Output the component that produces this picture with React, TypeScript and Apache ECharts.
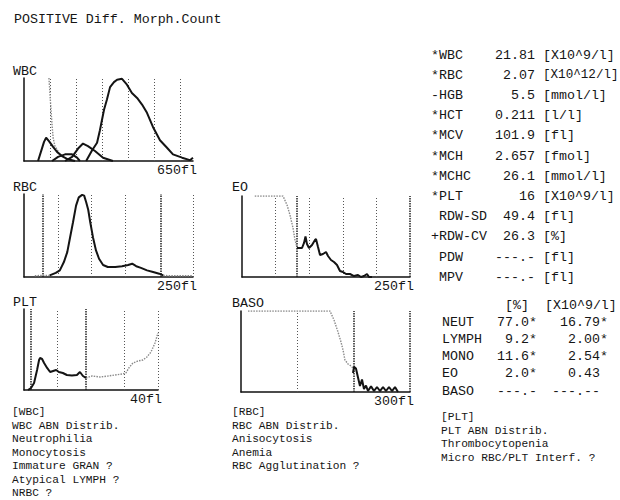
import React, { useEffect, useRef } from 'react';
import * as echarts from 'echarts';

const MONO = '"Liberation Mono", "Courier New", monospace';

const TITLE = 'POSITIVE Diff. Morph.Count';
const PANEL_NAMES = ['WBC', 'RBC', 'PLT', 'EO', 'BASO'];
const AXIS_END_LABELS = ['650fl', '250fl', '40fl', '250fl', '300fl'];
const AXIS_MAX = [650, 250, 40, 250, 300];

// WBC histogram (x: fl, y: relative count 0-100)
const wbcLymX = [54, 65, 77, 85, 96, 112, 127, 146, 169, 196];
const wbcLymY = [0, 11, 23, 28, 24, 17, 11, 6, 2, 0];
const wbcMonoX = [108, 131, 158, 185, 204, 215];
const wbcMonoY = [0, 5, 8, 8, 4, 0];
const wbcEoX = [158, 185, 208, 227, 246, 273, 304, 342];
const wbcEoY = [0, 5, 15, 21, 18, 12, 4, 0];
const wbcNeutX = [239, 262, 281, 292, 308, 319, 331, 346, 358, 377, 396, 415, 435, 454, 473, 496, 523, 550, 573, 608, 638, 650];
const wbcNeutY = [0, 13, 22, 37, 62, 74, 89, 95, 98, 99, 92, 82, 76, 68, 58, 41, 25, 16, 8, 4, 1, 4];
const wbcNoiseX = [96, 100, 104, 108, 112, 119, 131];
const wbcNoiseY = [100, 80, 61, 43, 28, 18, 12];
const wbcGuides = [100, 200, 300, 400, 500, 600];
const wbcDiscr: number[] = [];

// RBC histogram
const rbcLeadX = [16, 27, 38];
const rbcLeadY = [1.5, 2, 2];
const rbcX = [38, 47, 53, 59, 64, 68, 72.5, 77, 81, 86, 89, 92, 95, 98, 102, 106.5, 111, 117, 124, 135, 145, 154, 160, 166, 173, 182, 191, 200, 206];
const rbcY = [2, 5, 8, 18, 30, 47, 66, 86, 96, 99, 98, 90, 81, 66, 48, 32, 22, 14.5, 12, 12, 13, 14.5, 16, 13, 11, 8, 6, 4, 2];
const rbcTailX = [206, 215, 230, 249];
const rbcTailY = [2, 1.5, 1.5, 1.5];
const rbcGuides = [50, 100, 150, 250];
const rbcDiscr = [27, 203];

// PLT histogram
const pltX = [1.2, 2.1, 3, 3.9, 4.5, 4.8, 5.4, 6, 6.9, 7.8, 8.7, 9.6, 10.4, 11.6, 12.8, 14.3, 15.8, 16.7, 17.6, 18.5];
const pltY = [0, 2.5, 8.6, 24.7, 37, 39.5, 38.3, 33.3, 27.2, 22.2, 23.5, 24.7, 22.2, 21, 18.5, 17.9, 18.5, 22.2, 17.3, 14.8];
const pltTailX = [18.5, 20.3, 22.7, 25.1, 27.2, 29.3, 30.4, 31.3, 32.5, 34, 35.5, 36.7, 37.9, 39.1, 40];
const pltTailY = [14.8, 17.3, 16, 17.3, 18.5, 19.8, 21, 27.2, 33.3, 35.8, 37, 40.8, 46.9, 58, 70.4];
const pltGuides = [10, 30, 40];
const pltDiscr = [2, 18.5];

// EO scattergram projection
const eoCutX = [19, 61, 67, 71.4, 75.9, 78.9, 81.8];
const eoCutY = [100, 100, 88.9, 76.6, 60.5, 45.7, 37];
const eoX = [81.8, 89.3, 92.3, 94.5, 96.7, 99.7, 104.2, 108.6, 110.1, 113.1, 116.1, 120.5, 125, 128, 132.4, 136.9, 141.4, 145.8, 150.3, 154.8, 160.7, 166.7, 172.6, 177.1, 181.5, 186, 189, 193.4];
const eoY = [35.8, 35.8, 42, 50, 40.7, 35.8, 39.5, 45.7, 46.9, 37, 27.2, 28.4, 30.9, 25.9, 21, 18.5, 14.8, 7.4, 6.2, 3.7, 3.7, 1.2, 2.5, 0, 1.2, 3.7, 0, 0];
const eoGuides = [50, 100, 150, 200];
const eoDiscr = [82, 250];

// BASO scattergram projection
const basoCutX = [12.4, 158, 165.1, 172.2, 177.5, 181.1, 184.6, 189.9, 195.3, 198.8];
const basoCutY = [100, 100, 88.9, 74.1, 61.8, 51.9, 39.5, 34.6, 32.1, 29.6];
const basoX = [198.8, 200.6, 204.1, 207.7, 211.2, 214.8, 218.3, 221.9, 225.4, 230.8, 236.1, 241.4, 246.7, 252.1, 257.4, 262.7, 268, 273.4, 278.7];
const basoY = [23.5, 31, 29, 18, 7.4, 15.5, 3.7, 8, 1.2, 7, 1.2, 6.2, 1.2, 6.2, 1.2, 6.2, 1.2, 6.2, 0];
const basoGuides = [100];
const basoDiscr = [200, 300];

// CBC results
const cbcLabels = ['*WBC', '*RBC', '-HGB', '*HCT', '*MCV', '*MCH', '*MCHC', '*PLT', ' RDW-SD', '+RDW-CV', ' PDW', ' MPV'];
const cbcValues = ['21.81', '2.07', '5.5', '0.211', '101.9', '2.657', '26.1', '16', '49.4', '26.3', '---.-', '---.-'];
const cbcUnits = ['[X10^9/l]', '[X10^12/l]', '[mmol/l]', '[l/l]', '[fl]', '[fmol]', '[mmol/l]', '[X10^9/l]', '[fl]', '[%]', '[fl]', '[fl]'];

// Differential
const diffHeaders = ['[%]', '[X10^9/l]'];
const diffLabels = ['NEUT', 'LYMPH', 'MONO', 'EO', 'BASO'];
const diffPct = ['77.0*', ' 9.2*', '11.6*', ' 2.0*', '---.-'];
const diffAbs = [' 16.79*', '  2.00*', '  2.54*', '  0.43', '---.--'];

// Flags
const wbcFlags = ['[WBC]', 'WBC ABN Distrib.', 'Neutrophilia', 'Monocytosis', 'Immature GRAN ?', 'Atypical LYMPH ?', 'NRBC ?'];
const rbcFlags = ['[RBC]', 'RBC ABN Distrib.', 'Anisocytosis', 'Anemia', 'RBC Agglutination ?'];
const pltFlags = ['[PLT]', 'PLT ABN Distrib.', 'Thrombocytopenia', 'Micro RBC/PLT Interf. ?'];

const zip = (xs: number[], ys: number[]) => xs.map((x, i) => [x, ys[i]]);

export default function App() {
  const ref = useRef<HTMLDivElement>(null);
  useEffect(() => {
    if (!ref.current) return;
    const chart = echarts.init(ref.current, undefined, { renderer: 'svg' });

    const grids = [
      { left: 24, top: 78, width: 169, height: 83 },
      { left: 24, top: 194, width: 169, height: 83 },
      { left: 24, top: 309, width: 134, height: 81 },
      { left: 242, top: 196, width: 168, height: 81 },
      { left: 241, top: 311, width: 169, height: 81 },
    ];

    const guides = [
      [wbcGuides, wbcDiscr],
      [rbcGuides, rbcDiscr],
      [pltGuides, pltDiscr],
      [eoGuides, eoDiscr],
      [basoGuides, basoDiscr],
    ];

    const solid = (g: number, xs: number[], ys: number[], withGuides = false) => {
      const s: any = {
        type: 'line',
        xAxisIndex: g,
        yAxisIndex: g,
        data: zip(xs, ys),
        symbol: 'none',
        showSymbol: false,
        silent: true,
        lineStyle: { color: '#141414', width: 2 },
        z: 3,
      };
      if (withGuides) {
        const [light, dark] = guides[g];
        s.markLine = {
          symbol: 'none',
          silent: true,
          label: { show: false },
          z: 1,
          data: [
            ...light.map((v) => ({ xAxis: v, lineStyle: { color: '#555', width: 1, type: [1, 2] } })),
            ...dark.map((v) => ({ xAxis: v, lineStyle: { color: '#222', width: 1.5, type: [1.5, 1] } })),
          ],
        };
      }
      return s;
    };
    const dotted = (g: number, xs: number[], ys: number[]) => ({
      type: 'line',
      xAxisIndex: g,
      yAxisIndex: g,
      data: zip(xs, ys),
      symbol: 'none',
      showSymbol: false,
      silent: true,
      lineStyle: { color: '#8a8a8a', width: 1.4, type: [1.5, 1.2] },
      z: 2,
    });

    const txt = (text: string, x: number, y: number, size = 13.3, align = 'left') => ({
      type: 'text',
      x,
      y,
      silent: true,
      style: {
        text,
        fill: '#151515',
        fontSize: size,
        fontFamily: MONO,
        textAlign: align,
        textVerticalAlign: 'middle',
        align,
        verticalAlign: 'middle',
      },
    });
    const lead = (s: string) => s.length - s.trimStart().length;

    const P = 8; // character pitch of the printout font
    const graphics: any[] = [];
    graphics.push(txt(TITLE, 14, 19));
    const nameXY = [[13, 71], [13, 187], [13, 302], [232, 187], [232, 303]];
    PANEL_NAMES.forEach((n, i) => graphics.push(txt(n, nameXY[i][0], nameXY[i][1])));
    AXIS_END_LABELS.forEach((n, i) => {
      const g = grids[i];
      graphics.push(txt(n, g.left + g.width + 4, g.top + g.height + 9, 13.3, 'right'));
    });

    const cx = 431;
    cbcLabels.forEach((l, i) => {
      const y = 55 + 20.2 * i;
      graphics.push(txt(l.trim(), cx + lead(l) * P, y));
      graphics.push(txt(cbcValues[i], cx + 13 * P, y, 13.3, 'right'));
      const u = cbcUnits[i];
      // the longest unit is squeezed so that it stays inside the page
      const size = u.length > 9 ? 12.6 : 13.3;
      graphics.push(txt(u, cx + 14 * P, y, size));
    });

    const dy0 = 305;
    const dStep = 17.2;
    graphics.push(txt(diffHeaders[0], 505, dy0));
    graphics.push(txt(diffHeaders[1], 545, dy0));
    diffLabels.forEach((l, i) => {
      const y = dy0 + dStep * (i + 1);
      graphics.push(txt(l, 442, y));
      graphics.push(txt(diffPct[i].trim(), 497 + lead(diffPct[i]) * P, y));
      graphics.push(txt(diffAbs[i].trim(), 552 + lead(diffAbs[i]) * P, y));
    });

    const fs = 11.2;
    const fStep = 13.5;
    wbcFlags.forEach((t, i) => graphics.push(txt(t, 12, 412 + fStep * i, fs)));
    rbcFlags.forEach((t, i) => graphics.push(txt(t, 232, 412 + fStep * i, fs)));
    pltFlags.forEach((t, i) => graphics.push(txt(t, 441, 417 + fStep * i, fs)));

    const option: any = {
      animation: false,
      backgroundColor: '#ffffff',
      textStyle: { fontFamily: MONO },
      grid: grids.map((g) => ({ ...g, containLabel: false })),
      xAxis: grids.map((_, i) => ({
        gridIndex: i,
        type: 'value',
        min: 0,
        max: AXIS_MAX[i],
        axisLine: { show: true, onZero: false, lineStyle: { color: '#111', width: 1.5 } },
        axisTick: { show: false },
        axisLabel: { show: false },
        splitLine: { show: false },
      })),
      yAxis: grids.map((_, i) => ({
        gridIndex: i,
        type: 'value',
        min: 0,
        max: 100,
        axisLine: { show: true, onZero: false, lineStyle: { color: '#111', width: 1.5 } },
        axisTick: { show: false },
        axisLabel: { show: false },
        splitLine: { show: false },
      })),
      series: [
        solid(0, wbcLymX, wbcLymY, true),
        solid(0, wbcMonoX, wbcMonoY),
        solid(0, wbcEoX, wbcEoY),
        solid(0, wbcNeutX, wbcNeutY),
        dotted(0, wbcNoiseX, wbcNoiseY),
        solid(1, rbcX, rbcY, true),
        dotted(1, rbcLeadX, rbcLeadY),
        dotted(1, rbcTailX, rbcTailY),
        solid(2, pltX, pltY, true),
        dotted(2, pltTailX, pltTailY),
        solid(3, eoX, eoY, true),
        dotted(3, eoCutX, eoCutY),
        solid(4, basoX, basoY, true),
        dotted(4, basoCutX, basoCutY),
      ],
      graphic: { elements: graphics },
    };
    chart.setOption(option);
    return () => chart.dispose();
  }, []);

  return (
    <div
      ref={ref}
      style={{ position: 'fixed', left: 0, top: 0, width: 620, height: 500, background: '#fff' }}
    />
  );
}
